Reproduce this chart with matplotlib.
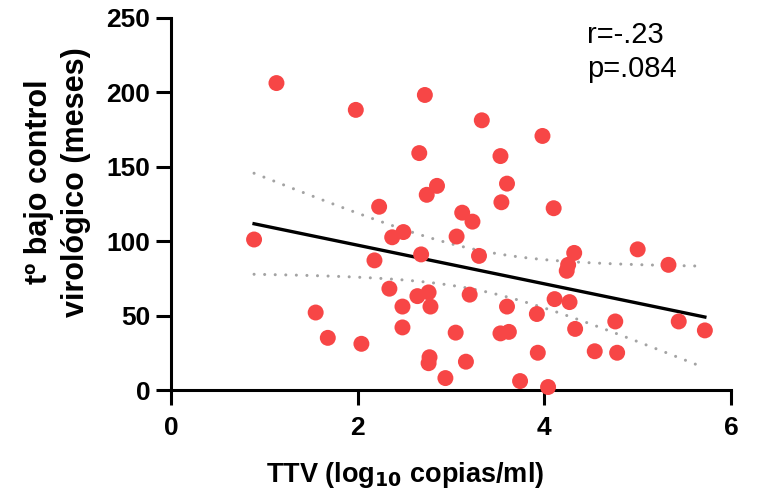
import numpy as np
import matplotlib
matplotlib.use("Agg")
import matplotlib.pyplot as plt

plt.rcParams['font.family'] = ['Liberation Sans', 'DejaVu Sans']

# TTV (log10 copias/ml) vs tiempo bajo control virologico (meses)
ttv = [0.89, 1.13, 1.55, 1.68, 1.98, 2.04, 2.18, 2.23, 2.34, 2.37,
       2.48, 2.48, 2.49, 2.64, 2.66, 2.68, 2.72, 2.74, 2.76, 2.78,
       2.77, 2.76, 2.85, 2.94, 3.05, 3.06, 3.12, 3.16, 3.20, 3.23,
       3.30, 3.33, 3.53, 3.54, 3.53, 3.60, 3.60, 3.62, 3.74, 3.92,
       3.93, 3.98, 4.04, 4.10, 4.11, 4.24, 4.255, 4.27, 4.32, 4.33,
       4.54, 4.76, 4.78, 5.00, 5.33, 5.44, 5.72]
meses = [101, 206, 52, 35, 188, 31, 87, 123, 68, 102.5,
         56, 42, 106, 63, 159, 91, 198, 131, 65.5, 56,
         22, 18, 137, 8, 38.5, 103, 119, 19, 64, 113,
         90, 181, 157, 126, 38, 138.5, 56, 39, 6, 51,
         25, 170.5, 2, 122, 61, 80, 84, 59, 92, 41,
         26, 46, 25, 94.4, 84, 46, 40]
stats_text = "r=-.23\np=.084"

x = np.array(ttv)
y = np.array(meses)

# linear fit + 95% confidence band of the mean
slope, intercept = np.polyfit(x, y, 1)
n = len(x)
xs = np.linspace(x.min(), x.max(), 200)
fit = slope * xs + intercept
resid = y - (slope * x + intercept)
s_err = np.sqrt(np.sum(resid ** 2) / (n - 2))
t_crit = 2.004  # t(0.975, df=55)
ci = t_crit * s_err * np.sqrt(1 / n + (xs - x.mean()) ** 2 / np.sum((x - x.mean()) ** 2))

fig = plt.figure(figsize=(7.64, 4.97), dpi=100)
ax = fig.add_axes([171 / 764, 1 - 390 / 497, 560 / 764, 372.5 / 497])

ax.plot(xs, fit, color='black', lw=2.4, zorder=2)
for band in (fit + ci, fit - ci):
    ax.plot(xs, band, color='#A3A3A3', lw=2.2, linestyle=(0, (0.01, 3.45)),
            dash_capstyle='round', zorder=1)
ax.scatter(x, y, s=132, color='#F74646', edgecolors='none', zorder=3, clip_on=False)

ax.set_xlim(0, 6)
ax.set_ylim(0, 250)
ax.set_xticks([0, 2, 4, 6])
ax.set_yticks([0, 50, 100, 150, 200, 250])

for side in ('top', 'right'):
    ax.spines[side].set_visible(False)
for side in ('left', 'bottom'):
    ax.spines[side].set_linewidth(2.2)
ax.tick_params(axis='both', width=2.2, length=11, labelsize=19)
ax.tick_params(axis='y', pad=4)
ax.tick_params(axis='x', pad=8)
for lab in ax.get_xticklabels() + ax.get_yticklabels():
    lab.set_fontweight('bold')

ax.set_xlabel("TTV (log$_{\\mathbf{10}}$ copias/ml)", fontsize=19.5, fontweight='bold')
ax.xaxis.label.set_va('center')
ax.xaxis.set_label_coords(0.418, -0.228)

ax.set_ylabel("tº bajo control\nvirológico (meses)", fontsize=22, fontweight='bold',
              linespacing=1.3)
ax.yaxis.label.set_va('center')
ax.yaxis.set_label_coords(-0.202, 0.558)

ax.text(0.743, 0.99, stats_text, transform=ax.transAxes, ha='left', va='top',
        fontsize=21, linespacing=1.25)

fig.savefig("out.png", dpi=100)
